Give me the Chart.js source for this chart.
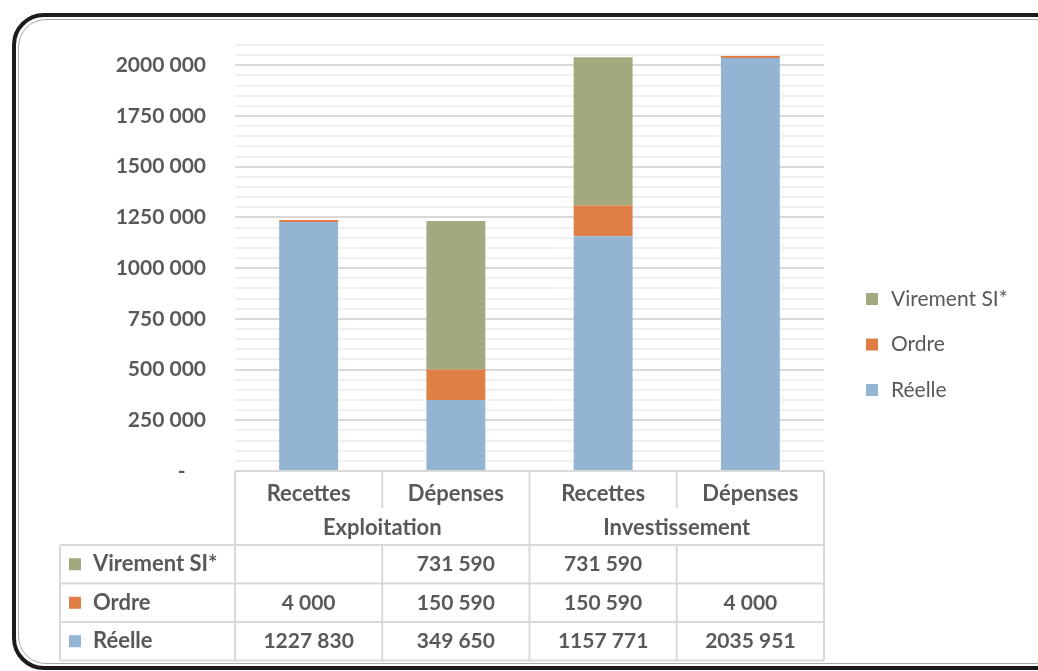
<!DOCTYPE html>
<html>
<head>
  <meta charset="UTF-8" />
  <title>Exploitation / Investissement</title>
  <script src="https://cdn.jsdelivr.net/npm/chart.js"></script>
  <style>
    html, body { margin: 0; background: #fff; overflow: hidden; }
    #wrap { position: relative; width: 1038px; height: 671px; overflow: hidden; }
    .frame {
      position: absolute; left: 12px; top: 13px; width: 1050px; height: 657px;
      box-sizing: border-box; border: 4px solid #1c1c1c; border-radius: 32px 24px 24px 32px;
    }
    .frame::after {
      content: ''; position: absolute; left: 2px; top: 2px; right: 2px; bottom: 2px;
      border: 1.5px solid #a8a8a8; border-radius: 28px 20px 20px 28px;
    }
    canvas { position: absolute; left: 0; top: 0; }
  </style>
</head>
<body>
  <div id="wrap">
    <div class="frame"></div>
    <canvas id="budgetChart" width="1038" height="671"></canvas>
  </div>

  <script>
    // chart values
    const categories = ['Recettes', 'Dépenses', 'Recettes', 'Dépenses'];
    const groups = ['Exploitation', 'Investissement'];
    const reelle = [1227830, 349650, 1157771, 2035951];
    const ordre = [4000, 150590, 150590, 4000];
    const virement = [null, 731590, 731590, null];
    const yMax = 2100000;
    const yMinorStep = 50000;
    const yMajorStep = 250000;

    const textColor = '#595959';
    const lineColor = '#d9d9d9';
    const fontFamily = 'Lato, "Open Sans", sans-serif';

    function fmt(v) {
      if (v === null || v === undefined) return '';
      const s = String(v);
      return s.length > 3 ? s.slice(0, -3) + ' ' + s.slice(-3) : s;
    }

    // data table, group labels and legend under / beside the plot
    const tablePlugin = {
      id: 'dataTable',
      afterDraw(chart) {
        const ctx = chart.ctx;
        const x = chart.scales.x;
        const area = chart.chartArea;
        const colW = (area.right - area.left) / categories.length;
        const left = 60;
        const axisY = area.bottom;
        const catRowBottom = axisY + 37;
        const headBottom = axisY + 74;
        const rowH = 38.5;
        const datasets = chart.data.datasets.slice().reverse();
        const tableBottom = headBottom + rowH * datasets.length;

        ctx.save();
        ctx.strokeStyle = lineColor;
        ctx.lineWidth = 2;
        ctx.beginPath();
        // vertical lines
        for (let i = 0; i <= categories.length; i++) {
          const px = area.left + i * colW;
          if (i % 2 === 0) {
            ctx.moveTo(px, axisY); ctx.lineTo(px, tableBottom);
          } else {
            ctx.moveTo(px, axisY); ctx.lineTo(px, catRowBottom);
            ctx.moveTo(px, headBottom); ctx.lineTo(px, tableBottom);
          }
        }
        ctx.moveTo(left, headBottom); ctx.lineTo(left, tableBottom);
        // horizontal lines
        for (let r = 0; r <= datasets.length; r++) {
          const py = headBottom + r * rowH;
          ctx.moveTo(left, py); ctx.lineTo(area.right, py);
        }
        ctx.stroke();

        ctx.fillStyle = textColor;
        ctx.font = 'bold 22px ' + fontFamily;
        ctx.textAlign = 'center';
        ctx.textBaseline = 'middle';
        // group labels
        groups.forEach((g, gi) => {
          const cx = area.left + (gi * 2 + 1) * colW;
          ctx.fillText(g, cx, axisY + 57);
        });

        // rows
        datasets.forEach((ds, r) => {
          const cy = headBottom + r * rowH + rowH / 2;
          ctx.fillStyle = ds.backgroundColor;
          ctx.fillRect(69, cy - 6, 12, 12);
          ctx.fillStyle = textColor;
          ctx.textAlign = 'left';
          ctx.font = 'bold 22px ' + fontFamily;
          ctx.fillText(ds.label, 93, cy);
          ctx.textAlign = 'center';
          ctx.font = 'bold 21px ' + fontFamily;
          ds.data.forEach((v, i) => {
            ctx.fillText(fmt(v), x.getPixelForValue(i), cy);
          });
        });

        // legend
        ctx.font = '21px ' + fontFamily;
        ctx.textAlign = 'left';
        datasets.forEach((ds, r) => {
          const cy = 299 + r * 45.5;
          ctx.fillStyle = ds.backgroundColor;
          ctx.fillRect(866, cy - 6, 12, 12);
          ctx.fillStyle = textColor;
          ctx.fillText(ds.label, 891, cy);
        });
        ctx.restore();
      }
    };

    const ctx = document.getElementById('budgetChart').getContext('2d');
    new Chart(ctx, {
      type: 'bar',
      data: {
        labels: categories,
        datasets: [
          { label: 'Réelle', data: reelle, backgroundColor: '#94b4d3' },
          { label: 'Ordre', data: ordre, backgroundColor: '#e07f45', minBarLength: 2 },
          { label: 'Virement SI*', data: virement, backgroundColor: '#a2a97e' },
        ]
      },
      options: {
        responsive: false,
        devicePixelRatio: 1,
        animation: false,
        barPercentage: 0.4,
        categoryPercentage: 1,
        layout: { padding: { top: 45, right: 214, left: 0, bottom: 0 } },
        plugins: {
          legend: { display: false },
          tooltip: { enabled: false },
        },
        scales: {
          x: {
            stacked: true,
            grid: { display: false },
            border: { display: false },
            ticks: {
              color: textColor,
              font: { family: fontFamily, size: 22, weight: 'bold' },
              padding: 2,
              maxRotation: 0,
            },
            afterFit(scale) { scale.height = 200; },
          },
          y: {
            stacked: true,
            min: 0,
            max: yMax,
            border: { display: false },
            grid: {
              drawTicks: false,
              lineWidth: 2,
              color: (c) => (c.tick && c.tick.value % yMajorStep === 0) ? lineColor : '#f0f0f0',
            },
            ticks: {
              stepSize: yMinorStep,
              autoSkip: false,
              color: textColor,
              padding: 29,
              font: { family: fontFamily, size: 21, weight: 'bold' },
              callback: (v) => {
                if (v === 0) return '-    ';
                return v % yMajorStep === 0 ? fmt(v) : '';
              },
            },
            afterFit(scale) { scale.width = 235; },
          },
        },
      },
      plugins: [tablePlugin],
    });
  </script>
</body>
</html>
